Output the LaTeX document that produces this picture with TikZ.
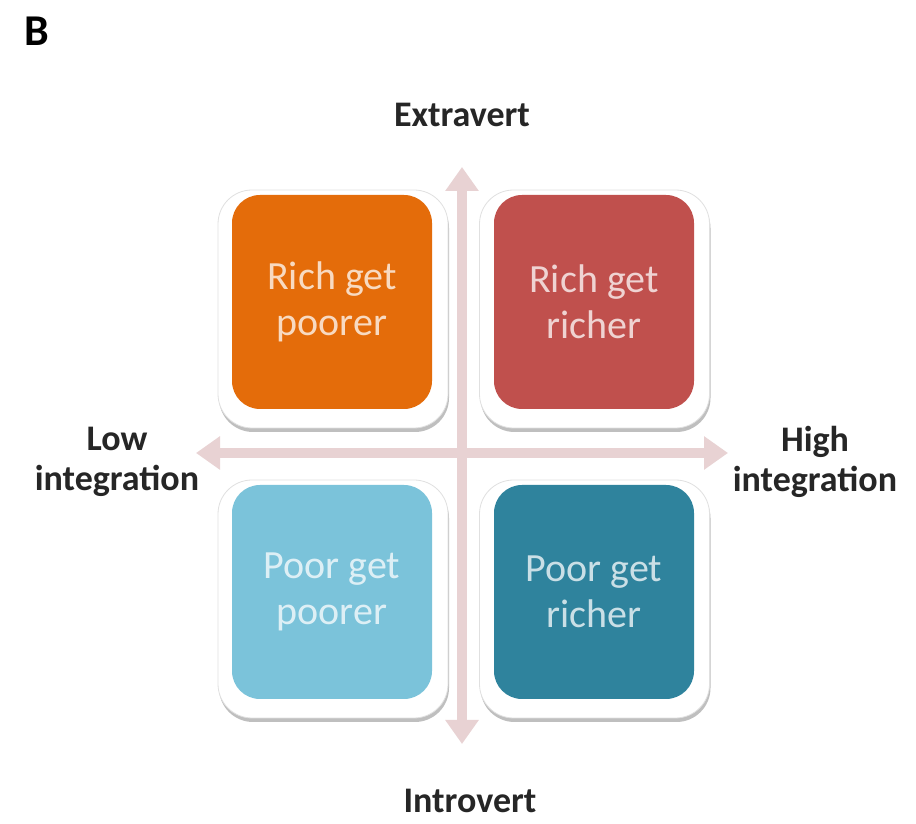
\documentclass[tikz,border=0pt]{standalone}
\usepackage{fontspec}
\setmainfont{Carlito}
\usetikzlibrary{arrows.meta,shadows}
\definecolor{axiscol}{HTML}{E8D2D3}
\definecolor{orangebox}{HTML}{E46C0A}
\definecolor{redbox}{HTML}{C0504D}
\definecolor{lightbluebox}{HTML}{7BC3DA}
\definecolor{tealbox}{HTML}{2F839D}
\begin{document}
\begin{tikzpicture}[x=1pt,y=1pt,
  frame/.style={draw=black!12, line width=0.8pt, fill=white, rounded corners=34pt,
    minimum width=230pt, minimum height=238pt, inner sep=0pt,
    drop shadow={shadow xshift=1pt, shadow yshift=-4pt, fill=black, opacity=0.25}},
  quad/.style={rounded corners=28pt, minimum width=200pt, minimum height=214pt,
    inner sep=0pt, align=center, text=white, text opacity=0.75,
    font=\fontsize{40}{46}\selectfont},
  axislabel/.style={font=\fontsize{36}{40}\selectfont\bfseries, text=black!85, align=center, inner sep=0pt},
  axis/.style={draw=axiscol, line width=10pt, {Triangle[width=32pt,length=24pt]}-{Triangle[width=32pt,length=24pt]}}
]
\useasboundingbox[fill=white] (0,0) rectangle (916,824);
% axes
\coordinate (top) at (462,657);
\coordinate (bottom) at (462,80);
\coordinate (left) at (196,371);
\coordinate (right) at (728,371);
\draw[axis] (bottom) -- (top);
\draw[axis] (left) -- (right);
% frames
\node[frame] (f1) at (333,515) {};
\node[frame] (f2) at (594.5,515) {};
\node[frame] (f3) at (333,225) {};
\node[frame] (f4) at (594.5,225) {};
% quadrants
\node[quad, fill=orangebox] (q1) at (332,522) {Rich get\\poorer};
\node[quad, fill=redbox] (q2) at (594,522) {Rich get\\richer};
\node[quad, fill=lightbluebox] (q3) at (332,232) {Poor get\\poorer};
\node[quad, fill=tealbox] (q4) at (594,232) {Poor get\\richer};
% labels
\node[font=\fontsize{44}{48}\selectfont\bfseries, anchor=base west, inner sep=0pt] (lab) at (24,778) {B};
\node[axislabel, anchor=base] (ext) at (462,697) {Extravert};
\node[axislabel, anchor=base] (intro) at (470,11) {Introvert};
\node[axislabel] (low) at (117,362) {Low\\integration};
\node[axislabel] (high) at (815,362) {High\\integration};
\end{tikzpicture}
\end{document}
